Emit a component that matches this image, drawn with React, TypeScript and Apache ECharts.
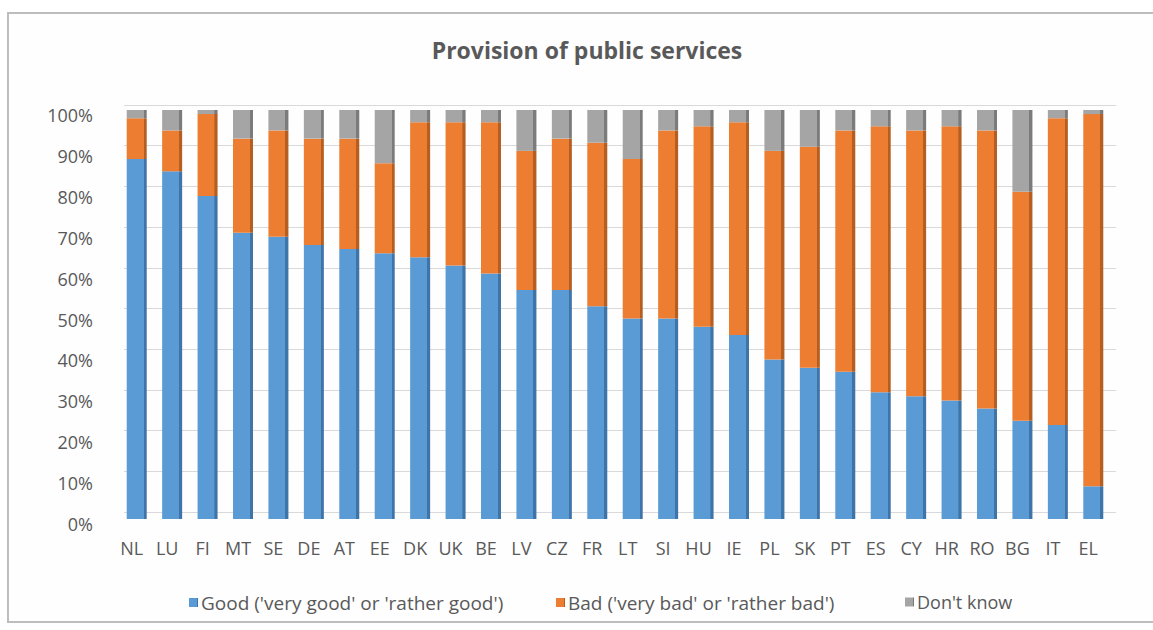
import React, { useEffect, useRef } from "react";
import * as echarts from "echarts";

const countries = ["NL","LU","FI","MT","SE","DE","AT","EE","DK","UK","BE","LV","CZ","FR","LT","SI","HU","IE","PL","SK","PT","ES","CY","HR","RO","BG","IT","EL"];
const good = [88,85,79,70,69,67,66,65,64,62,60,56,56,52,49,49,47,45,39,37,36,31,30,29,27,24,23,8];
const bad = [10,10,20,23,26,26,27,22,33,35,37,34,37,40,39,46,49,52,51,54,59,65,65,67,68,56,75,91];
const dontKnow = [2,5,1,7,5,7,7,13,3,3,3,10,7,8,12,5,4,3,10,9,5,4,5,4,5,20,2,1];
const yTicks = [0,10,20,30,40,50,60,70,80,90,100];

const seriesNames = ["Good ('very good' or 'rather good')", "Bad ('very bad' or 'rather bad')", "Don't know"];
const seriesColors = ["#5B9BD5", "#ED7D31", "#A5A5A5"];
const sideColors = ["#3F74A8", "#B55E22", "#7B7B7B"];
const legendLefts = [184, 551, 900];

const FONT = "'Open Sans', 'Noto Sans', sans-serif";
const TXT = "#595959";

export default function App() {
  const ref = useRef<HTMLDivElement>(null);
  useEffect(() => {
    if (!ref.current) return;
    const chart = echarts.init(ref.current, undefined, { renderer: "svg" });
    const grad = (i: number) =>
      new echarts.graphic.LinearGradient(0, 0, 1, 0, [
        { offset: 0, color: seriesColors[i] },
        { offset: 0.84, color: seriesColors[i] },
        { offset: 0.85, color: sideColors[i] },
        { offset: 1, color: sideColors[i] },
      ]);
    const datasets = [good, bad, dontKnow];
    chart.setOption({
      animation: false,
      backgroundColor: "#ffffff",
      textStyle: { fontFamily: FONT },
      title: {
        text: "Provision of public services",
        left: 582,
        top: 33,
        textAlign: "center",
        textStyle: { fontFamily: FONT, fontSize: 23, fontWeight: "bold", color: TXT },
      },
      graphic: [
        {
          type: "rect",
          shape: { x: 8, y: 13, width: 1160, height: 609 },
          style: { fill: "#fefefe", stroke: "#BDBDBD", lineWidth: 2 },
          z: -10,
          silent: true,
        },
      ],
      legend: seriesNames.map((n, i) => ({
        data: [n],
        left: legendLefts[i],
        top: 588,
        itemWidth: 9,
        itemHeight: 9,
        icon: "rect",
        textStyle: { fontFamily: FONT, fontSize: i === 2 ? 18 : 19, color: TXT, padding: [0, 0, 0, -2] },
      })),
      grid: [
        { left: 119, right: 42, top: 110, height: 409 },
        { left: 124, right: 37, top: 105, height: 407 },
      ],
      xAxis: [
        {
          type: "category",
          gridIndex: 0,
          data: countries,
          axisLine: { show: false },
          axisTick: { show: false },
          axisLabel: { color: TXT, fontSize: 18, fontFamily: FONT, margin: 20, padding: [0, 10, 0, 0] },
        },
        { type: "category", gridIndex: 1, data: countries, show: false },
      ],
      yAxis: [
        {
          type: "value",
          gridIndex: 0,
          min: 0,
          max: 100,
          interval: 10,
          splitLine: { show: false },
          axisLine: { show: false },
          axisTick: { show: false },
          axisLabel: {
            color: TXT,
            fontSize: 18,
            fontFamily: FONT,
            margin: 26,
            verticalAlign: "top",
            lineHeight: 10,
            formatter: (v: number) => (yTicks.includes(v) ? v + "%" : ""),
          },
        },
        {
          type: "value",
          gridIndex: 1,
          min: 0,
          max: 100,
          interval: 10,
          axisLabel: { show: false },
          axisLine: { show: false },
          axisTick: { show: false },
          splitLine: { show: true, lineStyle: { color: "#D9D9D9", width: 1 } },
        },
      ],
      series: datasets.map((d, i) => ({
        name: seriesNames[i],
        type: "bar",
        stack: "total",
        xAxisIndex: 0,
        yAxisIndex: 0,
        barWidth: 20,
        data: d,
        itemStyle: { color: grad(i) },
        z: 5,
      })),
      color: seriesColors,
    });
    return () => chart.dispose();
  }, []);
  return (
    <div
      ref={ref}
      style={{ position: "fixed", left: 0, top: 0, width: 1153, height: 630 }}
    />
  );
}
